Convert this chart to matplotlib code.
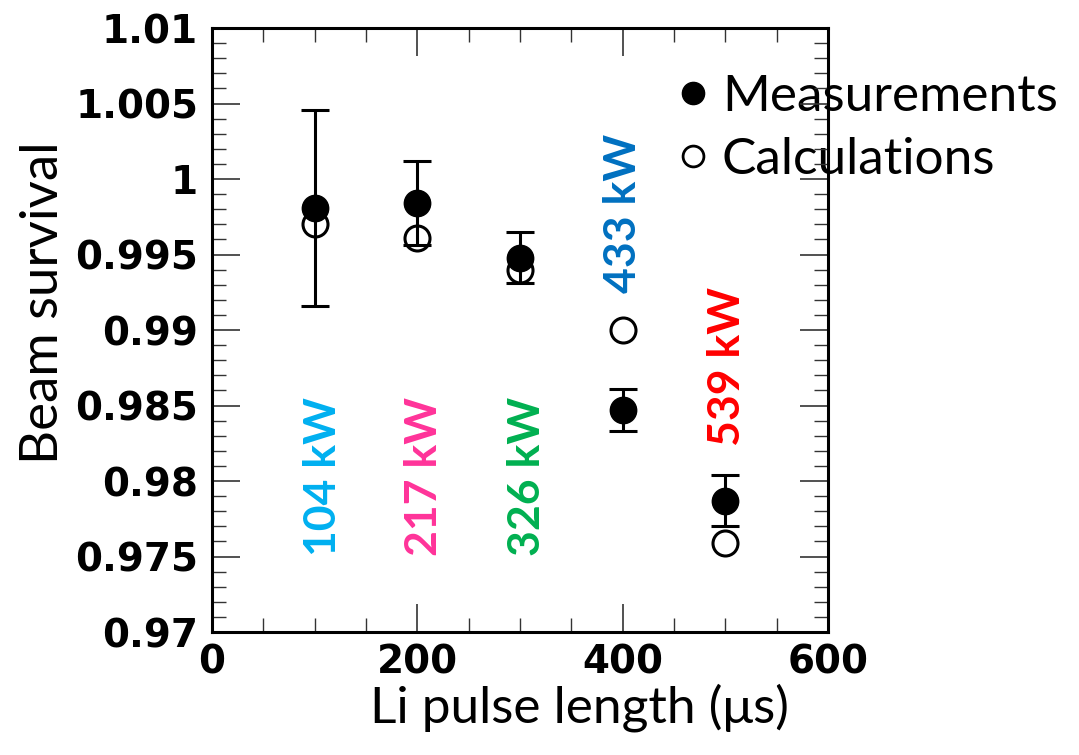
import matplotlib
matplotlib.use("Agg")
import matplotlib.pyplot as plt
from matplotlib.lines import Line2D
from matplotlib.ticker import MultipleLocator

# Li pulse length (us) and beam survival
pulse_length = [100, 200, 300, 400, 500]
measured = [0.9981, 0.9984, 0.9948, 0.9847, 0.9787]
measured_err = [0.0065, 0.0028, 0.0017, 0.0014, 0.0017]
calculated = [0.9970, 0.9961, 0.9940, 0.9900, 0.9759]

# Beam power annotations: text, x, y, colour
power_labels = ["104 kW", "217 kW", "326 kW", "433 kW", "539 kW"]
power_x = [108, 206, 307, 400, 502]
power_y = [0.9803, 0.9803, 0.9803, 0.99775, 0.9876]
power_colors = ["#00B0F0", "#FF3399", "#00B050", "#0070C0", "#FF0000"]

TICK_FONT = dict(family="DejaVu Sans", weight="bold", size=28)
LABEL_FONT = ["Lato", "DejaVu Sans"]

fig = plt.figure(figsize=(10.79, 7.55), dpi=100)
ax = fig.add_axes([0.1965, 0.1629, 0.5709, 0.8000])

meas = ax.errorbar(pulse_length, measured, yerr=measured_err, fmt="o",
                   color="black", markersize=19, elinewidth=2.2,
                   capsize=10, capthick=2.2, zorder=4)
meas[0].set_zorder(5)
ax.plot(pulse_length, calculated, "o", markerfacecolor="white",
        markeredgecolor="black", markeredgewidth=2.2,
        markersize=18, zorder=3)

for txt, px, py, col in zip(power_labels, power_x, power_y, power_colors):
    ax.text(px, py, txt, rotation=90, ha="center", va="center",
            color=col, fontsize=32, fontweight="bold", family=LABEL_FONT)

ax.set_xlim(0, 600)
ax.set_ylim(0.97, 1.01)
ax.xaxis.set_minor_locator(MultipleLocator(50))
ax.yaxis.set_minor_locator(MultipleLocator(0.001))

ax.set_yticks([0.97, 0.975, 0.98, 0.985, 0.99, 0.995, 1.0, 1.005, 1.01])
ax.set_yticklabels(["0.97", "0.975", "0.98", "0.985", "0.99", "0.995",
                    "1", "1.005", "1.01"], **TICK_FONT)
ax.set_xticks([0, 200, 400, 600])
ax.set_xticklabels(["0", "200", "400", "600"], **TICK_FONT)

ax.tick_params(which="both", direction="in", top=True, right=True,
               color="#333333")
ax.tick_params(which="major", length=20, width=1.2, pad=10)
ax.tick_params(which="minor", length=10, width=1.0)
ax.tick_params(axis="x", which="major", pad=8)

for sp in ax.spines.values():
    sp.set_linewidth(2.2)
    sp.set_zorder(10)

ax.set_xlabel("Li pulse length (\u03bcs)", fontsize=37, family=LABEL_FONT)
ax.xaxis.set_label_coords(0.596, -0.085)
ax.set_ylabel("Beam survival", fontsize=38, family=LABEL_FONT)
ax.yaxis.set_label_coords(-0.236, 0.545)

# legend: marker-only entries sitting across the right frame edge
handles = [
    Line2D([], [], linestyle="none", marker="o", markersize=16,
           color="black"),
    Line2D([], [], linestyle="none", marker="o", markersize=15,
           markerfacecolor="white", markeredgecolor="black",
           markeredgewidth=2.0),
]
leg = ax.legend(handles=handles, labels=["Measurements", "Calculations"],
                loc="center left", bbox_to_anchor=(0.607, 0.830),
                bbox_transform=fig.transFigure, frameon=False,
                prop=dict(family=LABEL_FONT, size=37),
                handlelength=0.5, handletextpad=0.3, labelspacing=0.33,
                borderpad=0)
leg.set_zorder(1)

fig.savefig("out.png", dpi=100, facecolor="white")
